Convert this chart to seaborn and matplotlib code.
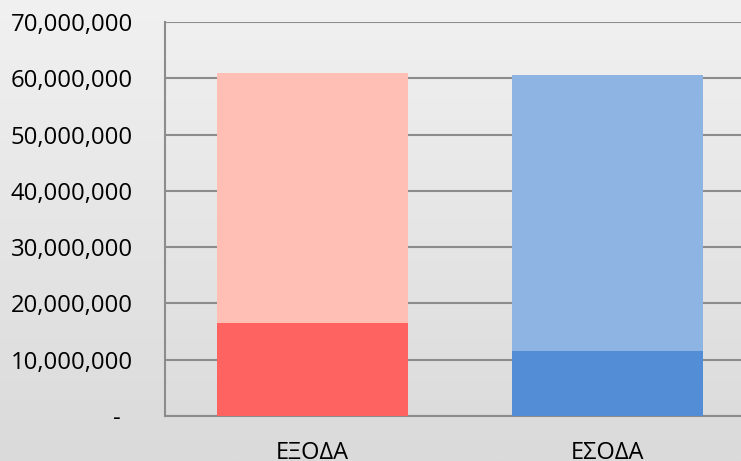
import numpy as np
import pandas as pd
import matplotlib
matplotlib.use("Agg")
import matplotlib.pyplot as plt
import seaborn as sns
from matplotlib.ticker import FuncFormatter
from matplotlib.colors import LinearSegmentedColormap

categories = ["ΕΞΟΔΑ", "ΕΣΟΔΑ"]
totals = [60900000, 60600000]
parts = [16500000, 11500000]
light_colors = ["#FFBFB5", "#8EB4E3"]
dark_colors = ["#FF6361", "#538DD5"]
yticks = [0, 10000000, 20000000, 30000000, 40000000, 50000000, 60000000, 70000000]

sns.set_style("white")
plt.rcParams['font.family'] = ['Open Sans', 'DejaVu Sans']

W, H = 741, 461
fig = plt.figure(figsize=(W / 100, H / 100), dpi=100)

# gradient background
bg = fig.add_axes([0, 0, 1, 1], zorder=-10)
grad = np.linspace(0, 1, 256).reshape(-1, 1)
cmap = LinearSegmentedColormap.from_list("bg", ["#F1F1F1", "#DADADA"])
bg.imshow(grad, aspect="auto", cmap=cmap, extent=[0, 1, 0, 1], origin="upper")
bg.axis("off")

left, right, top, bottom = 165, 755, 22, 416
ax = fig.add_axes([left / W, (H - bottom) / H, (right - left) / W, (bottom - top) / H])
ax.patch.set_alpha(0)

df = pd.DataFrame({"cat": categories, "total": totals, "part": parts})
sns.barplot(data=df, x="cat", y="total", hue="cat", palette=light_colors,
            width=0.645, saturation=1, legend=False, ax=ax, zorder=3)
sns.barplot(data=df, x="cat", y="part", hue="cat", palette=dark_colors,
            width=0.645, saturation=1, legend=False, ax=ax, zorder=4)
for p in ax.patches:
    p.set_linewidth(0)

ax.set_xlim(-0.5, 1.5)
ax.set_ylim(0, 70000000)
ax.set_yticks(yticks)
ax.yaxis.set_major_formatter(FuncFormatter(lambda v, pos: "-  " if v == 0 else f"{int(v):,}"))
ax.set_xlabel("")
ax.set_ylabel("")
ax.grid(axis="y", color="#8C8C8C", linewidth=1.5, zorder=0)
ax.set_axisbelow(True)
for s in ["top", "right"]:
    ax.spines[s].set_visible(False)
for s in ["left", "bottom"]:
    ax.spines[s].set_color("#8C8C8C")
    ax.spines[s].set_linewidth(1.5)
ax.tick_params(axis="y", length=0, pad=23, labelsize=17.2, labelcolor="#000000")
ax.tick_params(axis="x", length=0, pad=18, labelsize=17, labelcolor="#000000")

fig.savefig("out.png", dpi=100)
